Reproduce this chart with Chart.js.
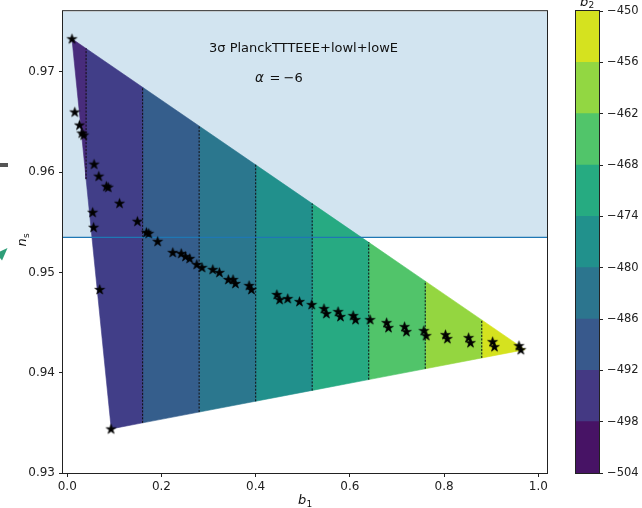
<!DOCTYPE html>
<html><head><meta charset="utf-8">
<script src="https://cdn.jsdelivr.net/npm/chart.js@4.4.1/dist/chart.umd.min.js"></script>
<style>
html,body{margin:0;padding:0;background:#fff;overflow:hidden;}
#wrap{position:relative;width:642px;height:508px;}
#main{position:absolute;left:0;top:0;}
#cbar{position:absolute;left:560px;top:0;}
</style></head><body>
<div id="wrap"><canvas id="main" width="642" height="508"></canvas><canvas id="cbar" width="82" height="508"></canvas></div>
<script>
// ---- data ----
const b1Stars = [0.010,0.016,0.026,0.031,0.035,0.057,0.067,0.083,0.087,0.111,0.054,0.056,0.149,0.168,0.173,0.192,0.069,0.093,0.224,0.242,0.251,0.260,0.275,0.286,0.309,0.323,0.342,0.352,0.357,0.386,0.391,0.445,0.451,0.468,0.493,0.519,0.545,0.550,0.575,0.580,0.607,0.612,0.643,0.678,0.682,0.716,0.720,0.757,0.762,0.803,0.807,0.852,0.856,0.903,0.907,0.959,0.963];
const nsStars = [0.9733,0.9660,0.9647,0.9639,0.9637,0.9608,0.9596,0.9586,0.9585,0.9569,0.9560,0.9545,0.9551,0.9540,0.9539,0.9531,0.9483,0.9344,0.9520,0.9519,0.9516,0.9514,0.9508,0.9505,0.9503,0.9500,0.9493,0.9493,0.9489,0.9487,0.9483,0.9478,0.9473,0.9474,0.9471,0.9468,0.9464,0.9459,0.9461,0.9456,0.9457,0.9453,0.9453,0.9450,0.9445,0.9446,0.9441,0.9442,0.9437,0.9438,0.9434,0.9435,0.9430,0.9431,0.9426,0.9427,0.9423];
const triB1 = [0.010, 0.0934, 0.972];      // region vertices (b1)
const triNs = [0.9733, 0.9344, 0.9423];    // region vertices (ns)
const contourB1 = [0.04, 0.16, 0.28, 0.40, 0.52, 0.64, 0.76, 0.88];
const b2Levels = [-504,-498,-492,-486,-480,-474,-468,-462,-456,-450];
const nsBound = 0.9535;
const xTicks = [0.0, 0.2, 0.4, 0.6, 0.8, 1.0];
const yTicks = [0.93, 0.94, 0.95, 0.96, 0.97];

// ---- styles ----
const cbarColors = ['#471365','#443983','#38598c','#2c758e','#21918c','#26ab81','#51c56a','#92d742','#d5e21f'];
const stripColors = ['#482c7c','#413e88','#355e8c','#2b778e','#21908c','#27aa82','#51c46a','#94d640','#d5e21f'];
const xMin = -0.009, xMax = 1.0185, yMin = 0.93, yMax = 0.97605;
const FONT = "'DejaVu Sans', sans-serif";
Chart.defaults.font.family = FONT;

// ---- geometry from data ----
const A = {x: triB1[0], y: triNs[0]}, B = {x: triB1[1], y: triNs[1]}, C = {x: triB1[2], y: triNs[2]};
function lerp(p, q, x) { return p.y + (q.y - p.y) * (x - p.x) / (q.x - p.x); }
function topAt(x) { return lerp(A, C, x); }
function botAt(x) { return x <= B.x ? lerp(A, B, x) : lerp(B, C, x); }
const edges = [A.x, ...contourB1, C.x];
const strips = [];
for (let i = 0; i < edges.length - 1; i++) {
  const x0 = edges[i], x1 = edges[i + 1];
  const pts = [{x: x0, y: topAt(x0)}, {x: x1, y: topAt(x1)}, {x: x1, y: botAt(x1)}];
  if (B.x > x0 && B.x < x1) pts.push({x: B.x, y: B.y});
  pts.push({x: x0, y: botAt(x0)});
  pts.push({x: x0, y: topAt(x0)});
  strips.push(pts);
}

const starImg = (() => {
  const c = document.createElement('canvas'); c.width = 13; c.height = 13;
  const g = c.getContext('2d');
  g.beginPath();
  for (let k = 0; k < 10; k++) {
    const r = k % 2 ? 2.0 : 5.2;
    const a = -Math.PI / 2 + k * Math.PI / 5;
    const px = 6.5 + r * Math.cos(a), py = 6.9 + r * Math.sin(a);
    if (k) g.lineTo(px, py); else g.moveTo(px, py);
  }
  g.closePath(); g.fillStyle = '#000'; g.fill();
  g.lineWidth = 0.6; g.strokeStyle = '#000'; g.stroke();
  return c;
})();

const datasets = [];
datasets.push({data: b1Stars.map((b, i) => ({x: b, y: nsStars[i]})), showLine: false, pointStyle: starImg, pointRadius: 5, order: 0});
datasets.push({data: [{x: xMin, y: nsBound}, {x: xMax, y: nsBound}], borderColor: '#1f77b4', borderWidth: 1.2, pointRadius: 0, fill: false, order: 1});
contourB1.forEach(b => datasets.push({data: [{x: b, y: botAt(b)}, {x: b, y: topAt(b)}], borderColor: '#111', borderWidth: 1, borderDash: [2, 1.5], pointRadius: 0, fill: false, order: 2}));
strips.forEach((pts, i) => datasets.push({data: pts, borderColor: stripColors[i], backgroundColor: stripColors[i], borderWidth: 0.6, pointRadius: 0, fill: 'shape', order: 3}));
datasets.push({data: [{x: xMin, y: nsBound}, {x: xMax, y: nsBound}], borderColor: 'rgba(0,0,0,0)', borderWidth: 1, backgroundColor: 'rgba(31,119,180,0.2)', fill: 'end', pointRadius: 0, order: 4});

function drawSub(ctx, main, sub, x, y, size, subSize, center) {
  ctx.font = 'italic ' + size + 'px ' + FONT;
  const w1 = ctx.measureText(main).width;
  ctx.font = subSize + 'px ' + FONT;
  const w2 = ctx.measureText(sub).width;
  let x0 = center ? x - (w1 + w2) / 2 : x;
  ctx.textAlign = 'left'; ctx.textBaseline = 'alphabetic';
  ctx.font = 'italic ' + size + 'px ' + FONT;
  ctx.fillText(main, x0, y);
  ctx.font = subSize + 'px ' + FONT;
  ctx.fillText(sub, x0 + w1 + 0.3, y + 2.6);
}

const decor = {
  id: 'decor',
  afterDraw(chart) {
    const {ctx, chartArea: a} = chart;
    ctx.save();
    ctx.strokeStyle = '#222'; ctx.lineWidth = 1;
    ctx.strokeRect(a.left - 0.5, a.top - 0.5, a.right - a.left + 1, a.bottom - a.top + 1);
    ctx.fillStyle = '#111';
    ctx.font = '13px ' + FONT; ctx.textAlign = 'center'; ctx.textBaseline = 'alphabetic';
    ctx.fillText('3\u03c3 PlanckTTTEEE+lowl+lowE', 303.5, 51.5);
    ctx.textAlign = 'left';
    ctx.font = 'italic 13.5px ' + FONT; ctx.fillText('\u03b1', 255, 82);
    ctx.font = '13px ' + FONT;
    ctx.fillText('=', 269.5, 82); ctx.fillText('\u2212', 283.5, 82); ctx.fillText('6', 294.5, 82);
    drawSub(ctx, 'b', '1', (a.left + a.right) / 2, 504, 13, 9, true);
    ctx.save(); ctx.translate(26, 240); ctx.rotate(-Math.PI / 2);
    drawSub(ctx, 'n', 's', 0, 0, 13, 9, true);
    ctx.restore();
    // screenshot edge remnants
    ctx.fillStyle = '#555'; ctx.fillRect(0, 163, 8, 4);
    ctx.fillStyle = '#2e9e78'; ctx.beginPath();
    ctx.moveTo(7.5, 248); ctx.lineTo(0, 251.5); ctx.lineTo(0, 258); ctx.lineTo(2, 260.5); ctx.closePath(); ctx.fill();
    ctx.restore();
  }
};

const axisCommon = {
  border: {display: false},
  grid: {drawOnChartArea: false, drawTicks: true, tickLength: 4, color: '#222'},
};
new Chart(document.getElementById('main'), {
  type: 'line',
  data: {datasets},
  options: {
    responsive: false, animation: false, devicePixelRatio: 1,
    layout: {padding: {left: 0, right: 95, top: 11, bottom: 0}},
    plugins: {legend: {display: false}, tooltip: {enabled: false}},
    elements: {line: {tension: 0}},
    scales: {
      x: Object.assign({type: 'linear', min: xMin, max: xMax,
        afterFit: s => { s.height = 35; },
        afterBuildTicks: s => { s.ticks = xTicks.map(v => ({value: v})); },
        ticks: {callback: v => Number(v).toFixed(1), padding: 3, color: '#222', font: {size: 12}, maxRotation: 0, autoSkip: false}}, axisCommon),
      y: Object.assign({type: 'linear', min: yMin, max: yMax,
        afterFit: s => { s.width = 63; },
        afterBuildTicks: s => { s.ticks = yTicks.map(v => ({value: v})); },
        ticks: {callback: v => Number(v).toFixed(2), padding: 4, color: '#222', font: {size: 12}, autoSkip: false}}, axisCommon)
    }
  },
  plugins: [decor]
});

const cbarDecor = {
  id: 'cbarDecor',
  afterDraw(chart) {
    const {ctx, chartArea: a} = chart;
    ctx.save();
    ctx.strokeStyle = '#222'; ctx.lineWidth = 1;
    ctx.strokeRect(a.left - 0.5, a.top - 0.5, a.right - a.left + 1, a.bottom - a.top + 1);
    ctx.fillStyle = '#111';
    drawSub(ctx, 'b', '2', 20, 5.5, 13, 9, false);
    ctx.restore();
  }
};
new Chart(document.getElementById('cbar'), {
  type: 'bar',
  data: {labels: ['b2'], datasets: cbarColors.map((c, i) => ({data: [[b2Levels[i], b2Levels[i + 1]]], backgroundColor: c, borderWidth: 0, barPercentage: 1, categoryPercentage: 1, grouped: false}))},
  options: {
    responsive: false, animation: false, devicePixelRatio: 1,
    layout: {padding: {left: 16, top: 11, bottom: 35, right: 0}},
    plugins: {legend: {display: false}, tooltip: {enabled: false}},
    scales: {
      x: {display: false},
      y: {position: 'right', min: b2Levels[0], max: b2Levels[b2Levels.length - 1],
        afterFit: s => { s.width = 43; },
        afterBuildTicks: s => { s.ticks = b2Levels.map(v => ({value: v})); },
        ticks: {callback: v => String(v).replace('-', '\u2212'), padding: 4, color: '#222', font: {size: 11.5}, autoSkip: false},
        border: {display: false},
        grid: {drawOnChartArea: false, drawTicks: true, tickLength: 4, color: '#222'}}
    }
  },
  plugins: [cbarDecor]
});
</script></body></html>
